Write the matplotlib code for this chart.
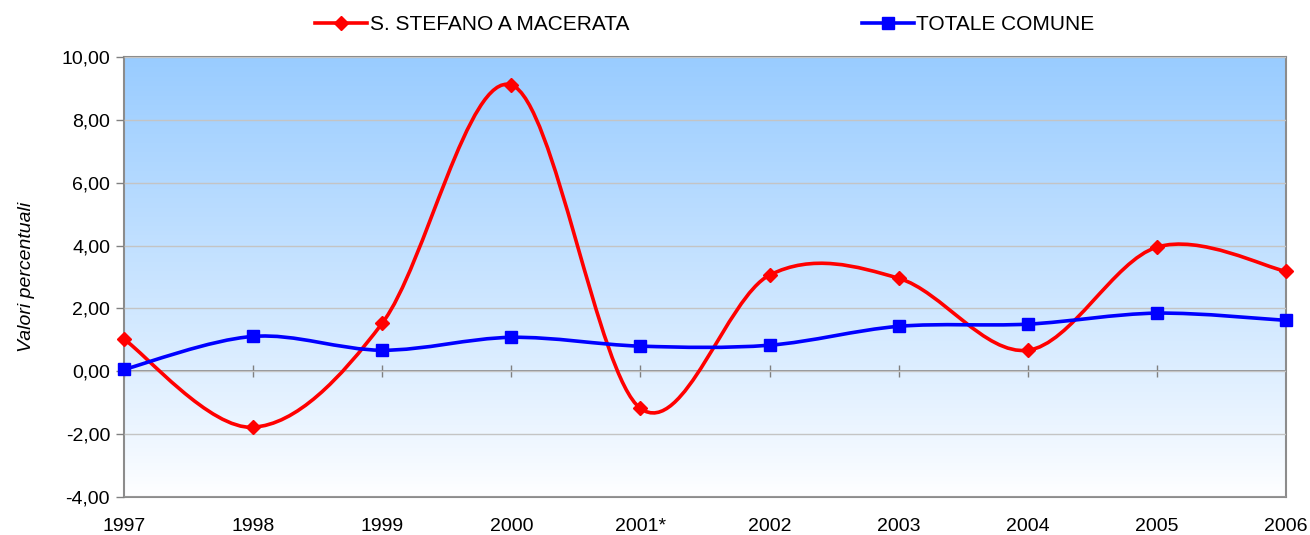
import numpy as np
import matplotlib.pyplot as plt
from matplotlib.path import Path
from matplotlib.patches import PathPatch
from matplotlib.lines import Line2D

plt.rcParams['font.family'] = ['Liberation Sans', 'DejaVu Sans']

years = ['1997', '1998', '1999', '2000', '2001*', '2002', '2003', '2004', '2005', '2006']
stefano = [1.02, -1.78, 1.53, 9.11, -1.18, 3.06, 2.96, 0.67, 3.95, 3.18]
totale = [0.06, 1.11, 0.67, 1.08, 0.80, 0.83, 1.43, 1.50, 1.85, 1.62]

red = '#FF0000'
blue = '#0000FF'


def smooth_path(xs, ys):
    # bezier smoothing like office charts
    pts = np.column_stack([xs, ys])
    n = len(pts)
    verts = [pts[0]]
    codes = [Path.MOVETO]
    for i in range(n - 1):
        p0 = pts[max(i - 1, 0)]
        p1 = pts[i]
        p2 = pts[i + 1]
        p3 = pts[min(i + 2, n - 1)]
        c1 = p1 + (p2 - p0) / 6.0
        c2 = p2 - (p3 - p1) / 6.0
        verts += [c1, c2, p2]
        codes += [Path.CURVE4] * 3
    return Path(verts, codes)


fig = plt.figure(figsize=(13.1, 5.35), dpi=100)
ax = fig.add_axes([124 / 1310, 38 / 535, 1162 / 1310, 440 / 535])

x = np.arange(len(years))
ax.set_xlim(0, len(years) - 1)
ax.set_ylim(-4, 10)

# gradient background
grad = np.linspace(0, 1, 256).reshape(-1, 1)
top = np.array([153, 204, 255]) / 255.0
bot = np.array([255, 255, 255]) / 255.0
img = bot + (top - bot) * grad[..., None] ** 0.9
ax.imshow(img, extent=[0, len(years) - 1, -4, 10], origin='lower',
          aspect='auto', zorder=0)

ax.set_yticks(np.arange(-4, 10.1, 2))
ax.set_yticklabels([f'{v:.2f}'.replace('.', ',') for v in np.arange(-4, 10.1, 2)])
ax.yaxis.grid(True, color='#C4C4C4', linewidth=1)
ax.set_axisbelow(False)
for gl in ax.get_ygridlines():
    gl.set_zorder(1)

ax.axhline(0, color='#808080', linewidth=1.2, zorder=2)
ax.plot(x, np.zeros(len(x)), linestyle='none', marker='|', markersize=9,
        color='#808080', markeredgewidth=1, zorder=2)

ax.set_xticks(x)
ax.set_xticklabels(years)
ax.tick_params(axis='x', length=0, pad=15, labelsize=14)
ax.tick_params(axis='y', length=6, width=1, color='#808080', labelsize=14, pad=4)

for sp in ax.spines.values():
    sp.set_color('#8C8C8C')
    sp.set_linewidth(1.5)

for vals, col, mk, ms in [(stefano, red, 'D', 7), (totale, blue, 's', 8.5)]:
    ax.add_patch(PathPatch(smooth_path(x, vals), facecolor='none', edgecolor=col,
                           linewidth=2.6, zorder=3, clip_on=False))
    ax.plot(x, vals, linestyle='none', marker=mk, markersize=ms, color=col,
            zorder=4, clip_on=False)

ax.set_ylabel('Valori percentuali', fontsize=14, style='italic', labelpad=19)

handles = [Line2D([], [], color=red, lw=2.6, marker='D', markersize=7),
           Line2D([], [], color=blue, lw=2.6, marker='s', markersize=8.5)]
ax.legend(handles, ['S. STEFANO A MACERATA', 'TOTALE COMUNE'], ncol=2,
          loc='lower center', bbox_to_anchor=(0.5, 1.033), frameon=False,
          fontsize=15, handlelength=2.5, handletextpad=0.1, columnspacing=11.2,
          borderaxespad=0)

fig.savefig('out.png', dpi=100)
